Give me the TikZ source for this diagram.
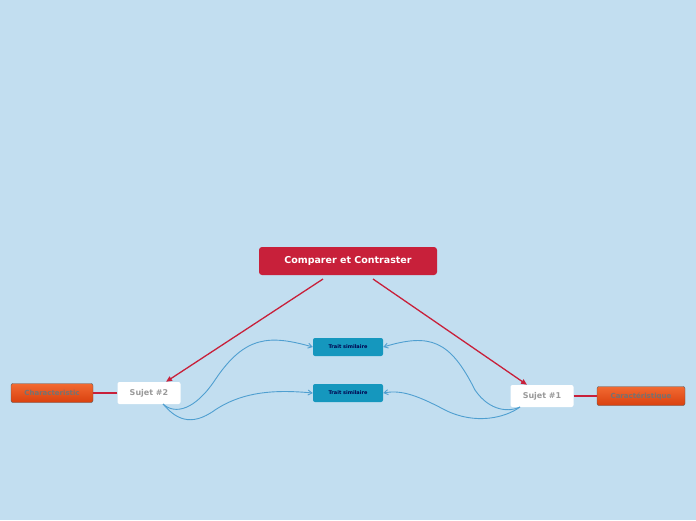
\documentclass[tikz,border=0pt]{standalone}
\usepackage{fontspec}
\setmainfont{DejaVu Sans}
\usetikzlibrary{arrows.meta}
\definecolor{bg}{HTML}{C2DEF0}
\definecolor{mainred}{HTML}{C8203A}
\definecolor{teal}{HTML}{1597BE}
\definecolor{curve}{HTML}{4F9FD0}
\definecolor{orangeT}{HTML}{F26A32}
\definecolor{orangeB}{HTML}{D9400E}
\tikzset{
 mainbox/.style={fill=mainred,rounded corners=3pt,minimum width=178pt,minimum height=28pt,text=white,font=\bfseries\fontsize{9.5}{11}\selectfont,inner sep=0pt},
 sujet/.style={fill=white,rounded corners=2pt,minimum width=63pt,minimum height=22pt,text=gray!80,font=\bfseries\fontsize{8}{10}\selectfont,inner sep=0pt},
 charbox/.style={top color=orangeT,bottom color=orangeB,draw=gray!70!black,rounded corners=2pt,minimum height=19pt,text=gray!90!black,font=\bfseries\fontsize{7}{9}\selectfont,inner sep=0pt},
 trait/.style={fill=teal,rounded corners=2pt,minimum width=70pt,minimum height=18pt,text=blue!30!black,font=\bfseries\fontsize{5}{6}\selectfont,inner sep=0pt},
 redarrow/.style={draw=mainred,line width=1.3pt,-{Triangle[length=6pt,width=5pt]}},
 redline/.style={draw=mainred,line width=1.3pt},
 bluecurve/.style={draw=curve,line width=0.9pt,-{Straight Barb[length=4pt,width=5pt]}}
}
\begin{document}
\begin{tikzpicture}[x=1pt,y=-1pt]
\fill[bg] (0,0) rectangle (696,520);
\useasboundingbox (0,0) rectangle (696,520);
\node[mainbox] (main) at (348,261) {Comparer et Contraster};
\node[sujet] (s2) at (149,393) {Sujet \#2};
\node[sujet] (s1) at (542,396) {Sujet \#1};
\node[charbox,minimum width=82pt] (c2) at (52,393) {Characteristic};
\node[charbox,minimum width=88pt] (c1) at (641,396) {Caractéristique};
\node[trait] (t1) at (348,347) {Trait similaire};
\node[trait] (t2) at (348,393) {Trait similaire};
\coordinate (m2) at (323,279);
\coordinate (m1) at (373,279);
\draw[redarrow] (m2) -- (s2.north -| 166,0);
\draw[redarrow] (m1) -- (s1.north -| 527,0);
\draw[redline] (s2.west) -- (c2.east);
\draw[redline] (s1.east) -- (c1.west);
\coordinate (s2b) at (163,404);
\coordinate (s1b) at (520,407);
\draw[bluecurve] (s2b) .. controls (175,415) and (195,410) .. (215,380) .. controls (245,335) and (270,335) .. (t1.west);
\draw[bluecurve] (s2b) .. controls (175,418) and (190,428) .. (215,410) .. controls (245,390) and (280,390) .. (t2.west);
\draw[bluecurve] (s1b) .. controls (510,412) and (490,412) .. (475,390) .. controls (450,340) and (430,333) .. (t1.east);
\draw[bluecurve] (s1b) .. controls (505,418) and (475,425) .. (445,410) .. controls (415,394) and (400,390) .. (t2.east);
\end{tikzpicture}
\end{document}
